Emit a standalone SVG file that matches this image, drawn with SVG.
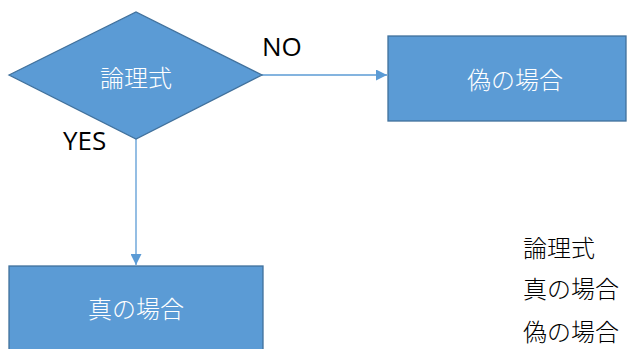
<svg xmlns="http://www.w3.org/2000/svg" width="636" height="349" viewBox="0 0 636 349">
<style>
.shape{fill:#5B9BD5;stroke:#41719C;stroke-width:1.3}
.lbl{font-family:"Noto Sans CJK JP","Noto Sans",sans-serif;font-size:24px;font-weight:300;fill:#ffffff;text-anchor:middle;dominant-baseline:central}
.edge{stroke:#5B9BD5;stroke-width:1.3;fill:none}
.yn{font-family:"Open Sans","Liberation Sans",sans-serif;font-size:26px;fill:#000}
.side{font-family:"Noto Sans CJK JP",sans-serif;font-size:24px;font-weight:300;fill:#000;dominant-baseline:central}
</style>
<defs>
<marker id="arr" viewBox="0 0 10 10" refX="10" refY="5" markerWidth="11" markerHeight="11" markerUnits="userSpaceOnUse" orient="auto">
<path d="M0,0 L10,5 L0,10 Z" fill="#5B9BD5"/>
</marker>
</defs>
<g id="connectors">
<line class="edge" x1="262" y1="75" x2="387" y2="75" marker-end="url(#arr)"/>
<line class="edge" x1="136" y1="139" x2="136" y2="265" marker-end="url(#arr)"/>
<text class="yn" x="262" y="56">NO</text>
<text class="yn" x="63" y="150">YES</text>
</g>
<g id="cond">
<polygon class="shape" points="9,75 136,12 262,75 136,139"/>
<text class="lbl" x="136" y="76">論理式</text>
</g>
<g id="false">
<rect class="shape" x="388" y="36" width="238" height="85"/>
<text class="lbl" x="515" y="78">偽の場合</text>
</g>
<g id="true">
<rect class="shape" x="9" y="266" width="254" height="95"/>
<text class="lbl" x="136" y="307">真の場合</text>
</g>
<g id="legend">
<text class="side" x="523" y="246">論理式</text>
<text class="side" x="523" y="287">真の場合</text>
<text class="side" x="523" y="330">偽の場合</text>
</g>
</svg>
